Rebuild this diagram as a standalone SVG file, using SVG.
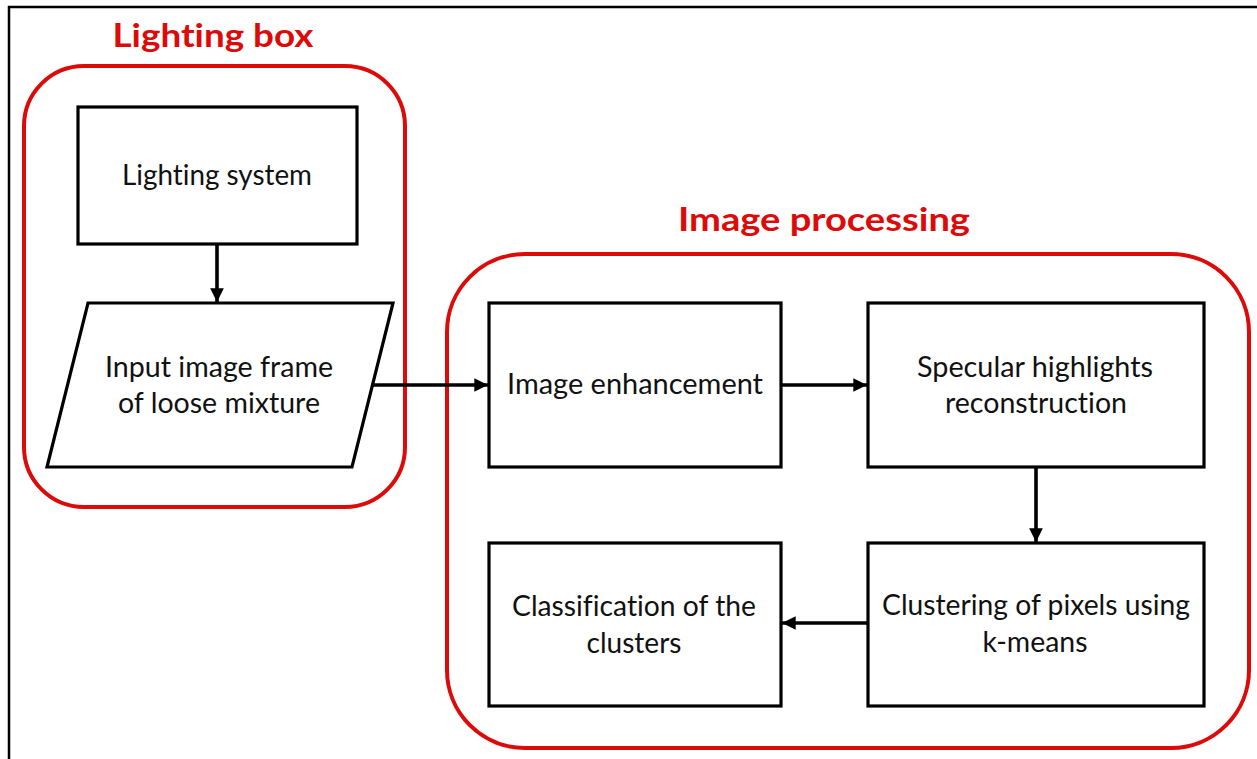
<svg xmlns="http://www.w3.org/2000/svg" width="1257" height="759" viewBox="0 0 1257 759">
  <defs>
    <marker id="arrow" viewBox="0 0 10 10" refX="10" refY="5" markerWidth="3.8" markerHeight="3.8" orient="auto" markerUnits="strokeWidth">
      <path d="M0,0 L10,5 L0,10 z" fill="#000"/>
    </marker>
    <style>
      .frame { fill: none; stroke: #000; stroke-width: 2.5; }
      .group { fill: none; stroke: #dd0a0a; stroke-width: 4; }
      .title { font-family: Lato, "Open Sans", sans-serif; font-weight: bold; font-size: 33px; fill: #dd0a0a; text-anchor: middle; font-variant-ligatures: none; font-feature-settings: "liga" 0, "clig" 0, "dlig" 0; }
      .box { fill: #fff; stroke: #000; stroke-width: 3.2; }
      .label { font-family: Lato, "Open Sans", sans-serif; font-size: 28.5px; fill: #111; text-anchor: middle; font-variant-ligatures: none; font-feature-settings: "liga" 0, "clig" 0, "dlig" 0; }
      .conn { fill: none; stroke: #000; stroke-width: 3.6; marker-end: url(#arrow); }
    </style>
  </defs>

  <rect width="1257" height="759" fill="#fff"/>
  <!-- page frame (only top and left edges fall inside the canvas) -->
  <rect class="frame" x="9" y="7" width="1300" height="800"/>

  <!-- group containers -->
  <g id="lighting-box">
    <rect class="group" x="24" y="66" width="381" height="441" rx="60" ry="60"/>
    <text class="title" x="213" y="47" textLength="201" lengthAdjust="spacingAndGlyphs">Lighting box</text>
  </g>
  <g id="image-processing">
    <rect class="group" x="447" y="254" width="802" height="494" rx="78" ry="78"/>
    <text class="title" x="824" y="231" textLength="292" lengthAdjust="spacingAndGlyphs">Image processing</text>
  </g>

  <!-- connectors -->
  <g id="connectors">
    <line class="conn" x1="217" y1="244" x2="217" y2="302"/>
    <line class="conn" x1="372" y1="385" x2="488" y2="385"/>
    <line class="conn" x1="781" y1="385" x2="867" y2="385"/>
    <line class="conn" x1="1036" y1="467" x2="1036" y2="542"/>
    <line class="conn" x1="868" y1="623" x2="782" y2="623"/>
  </g>

  <!-- process nodes -->
  <g id="lighting-system">
    <rect class="box" x="78" y="107" width="279" height="137"/>
    <text class="label" x="217" y="185" textLength="190" lengthAdjust="spacingAndGlyphs">Lighting system</text>
  </g>
  <g id="input-image">
    <polygon class="box" points="88,303 393,303 352,467 47,467"/>
    <text class="label" x="219" y="377" textLength="228" lengthAdjust="spacingAndGlyphs">Input image frame</text>
    <text class="label" x="219" y="413" textLength="202" lengthAdjust="spacingAndGlyphs">of loose mixture</text>
  </g>
  <g id="image-enhancement">
    <rect class="box" x="489" y="303" width="292" height="164"/>
    <text class="label" x="635" y="394" textLength="256" lengthAdjust="spacingAndGlyphs">Image enhancement</text>
  </g>
  <g id="specular-reconstruction">
    <rect class="box" x="868" y="303" width="336" height="164"/>
    <text class="label" x="1035" y="377" textLength="236" lengthAdjust="spacingAndGlyphs">Specular highlights</text>
    <text class="label" x="1036" y="413" textLength="182" lengthAdjust="spacingAndGlyphs">reconstruction</text>
  </g>
  <g id="kmeans-clustering">
    <rect class="box" x="868" y="543" width="336" height="163"/>
    <text class="label" x="1036" y="615" textLength="308" lengthAdjust="spacingAndGlyphs">Clustering of pixels using</text>
    <text class="label" x="1035" y="652" textLength="105" lengthAdjust="spacingAndGlyphs">k-means</text>
  </g>
  <g id="cluster-classification">
    <rect class="box" x="489" y="543" width="292" height="163"/>
    <text class="label" x="634" y="616" textLength="244" lengthAdjust="spacingAndGlyphs">Classification of the</text>
    <text class="label" x="634" y="653" textLength="95" lengthAdjust="spacingAndGlyphs">clusters</text>
  </g>
</svg>
